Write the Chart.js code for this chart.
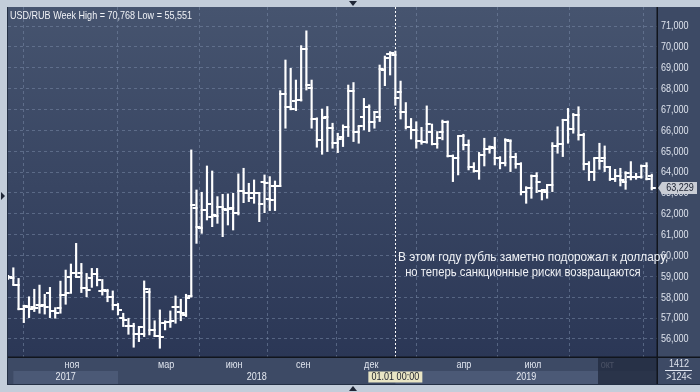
<!DOCTYPE html>
<html>
<head>
<meta charset="utf-8">
<script src="https://cdn.jsdelivr.net/npm/chart.js@4.4.1/dist/chart.umd.min.js"></script>
<style>
  html, body { margin: 0; padding: 0; background: #c3cdda; }
  #wrap { width: 700px; height: 392px; }
</style>
</head>
<body>
<div id="wrap"><canvas id="ohlcChart" width="700" height="392"></canvas></div>
<script>
// Недельные бары USD/RUB, слева направо (124 бара)
const opens = [
  59.00, 58.90, 58.58, 57.43, 57.51, 57.55, 57.61, 57.61, 58.20, 57.34,
  57.46, 58.10, 58.98, 59.17, 59.17, 58.42, 58.90, 59.11, 58.30, 58.30,
  58.02, 57.62, 56.99, 56.62, 56.62, 56.22, 56.22, 58.26, 56.43, 56.14,
  56.78, 56.83, 57.54, 57.31, 57.15, 58.05, 62.26, 61.30, 62.18, 61.86,
  61.91, 62.34, 62.18, 62.29, 62.05, 63.11, 62.98, 62.98, 62.98, 63.51,
  62.71, 63.35, 63.35, 67.74, 67.10, 67.41, 67.45, 69.88, 68.01, 66.53,
  65.54, 66.66, 66.10, 65.41, 65.70, 66.14, 67.90, 65.94, 66.66, 67.10,
  66.42, 66.66, 68.89, 69.64, 69.60, 67.82, 66.89, 66.14, 66.02, 65.50,
  65.42, 65.90, 65.33, 65.94, 66.41, 64.77, 64.66, 65.73, 65.30, 64.26,
  64.05, 64.82, 65.10, 65.14, 64.66, 64.45, 65.49, 64.74, 64.38, 63.06,
  63.25, 63.81, 63.10, 63.06, 63.38, 65.25, 65.33, 66.49, 66.05, 66.73,
  65.78, 64.38, 64.02, 64.66, 64.66, 64.23, 63.65, 63.81, 63.54, 63.75,
  63.75, 63.75, 64.29, 63.81
];
const highs = [
  59.05, 59.41, 58.90, 57.62, 58.02, 58.38, 58.58, 58.14, 58.47, 57.50,
  58.77, 59.30, 59.59, 60.58, 59.62, 59.14, 59.38, 59.38, 58.85, 58.38,
  58.30, 57.70, 57.23, 56.99, 56.75, 56.59, 58.78, 58.42, 56.87, 57.39,
  56.87, 57.34, 58.06, 57.90, 58.14, 65.06, 63.14, 63.03, 64.29, 64.05,
  62.82, 62.93, 62.95, 62.98, 63.91, 64.18, 63.46, 63.62, 63.00, 63.86,
  63.78, 63.57, 67.90, 69.37, 68.97, 68.41, 70.06, 70.768, 68.41, 66.60,
  67.02, 67.14, 66.34, 65.86, 66.26, 68.17, 68.29, 66.21, 67.53, 67.22,
  66.90, 69.13, 69.56, 69.77, 69.80, 68.36, 67.33, 66.57, 66.41, 66.14,
  67.17, 66.30, 65.94, 66.49, 66.45, 64.82, 65.74, 65.81, 65.54, 64.45,
  64.94, 65.62, 65.25, 65.66, 64.74, 65.60, 65.55, 64.90, 64.45, 63.30,
  63.86, 63.97, 63.14, 63.40, 65.41, 66.17, 66.53, 67.05, 66.81, 67.13,
  65.86, 64.50, 64.66, 65.38, 65.25, 64.25, 64.13, 64.18, 64.02, 64.50,
  63.94, 64.34, 64.45, 63.90
];
const lows = [
  58.85, 58.58, 57.39, 56.78, 57.02, 57.31, 57.23, 57.19, 57.02, 56.99,
  57.23, 57.66, 58.18, 58.95, 58.22, 58.02, 58.47, 58.54, 58.10, 57.78,
  57.39, 57.15, 56.59, 56.22, 55.60, 55.87, 56.11, 56.19, 56.11, 55.551,
  56.43, 56.55, 56.75, 56.87, 57.07, 58.00, 60.58, 61.06, 61.70, 61.38,
  61.54, 60.90, 61.46, 61.22, 61.94, 62.53, 62.58, 62.50, 61.62, 62.05,
  62.15, 62.15, 63.30, 66.10, 66.98, 66.94, 67.40, 67.93, 66.10, 65.19,
  64.85, 64.98, 65.14, 64.93, 65.22, 65.70, 65.46, 65.38, 66.02, 65.94,
  66.10, 66.42, 68.14, 68.65, 67.20, 66.54, 66.06, 65.58, 65.14, 65.33,
  65.38, 65.30, 65.14, 65.54, 64.72, 63.54, 63.86, 65.06, 64.10, 63.99,
  63.65, 64.29, 64.90, 64.34, 64.15, 64.29, 64.02, 64.18, 62.90, 62.50,
  62.74, 63.01, 62.66, 62.74, 63.06, 64.90, 64.74, 65.38, 65.86, 65.53,
  64.10, 63.59, 63.59, 64.13, 64.02, 63.59, 63.54, 63.33, 63.17, 63.62,
  63.65, 63.70, 63.62, 63.14
];
const closes = [
  58.95, 58.58, 57.43, 57.58, 57.45, 57.47, 57.58, 57.55, 57.34, 57.26,
  58.10, 58.22, 59.14, 58.98, 58.42, 58.34, 59.11, 58.82, 58.34, 58.02,
  57.62, 57.39, 56.91, 56.62, 56.22, 56.59, 58.38, 56.43, 56.14, 56.11,
  56.83, 56.87, 57.54, 57.23, 57.95, 62.42, 61.35, 62.18, 62.47, 61.94,
  62.34, 62.21, 62.21, 62.05, 63.11, 62.98, 62.74, 62.98, 62.47, 63.49,
  62.66, 63.35, 67.74, 67.10, 67.01, 67.45, 69.88, 68.17, 66.53, 65.54,
  66.58, 66.10, 65.41, 65.57, 66.14, 67.90, 65.94, 66.21, 67.10, 66.42,
  66.86, 68.92, 69.48, 69.69, 67.55, 66.89, 66.14, 66.02, 65.50, 65.42,
  66.29, 65.33, 65.62, 66.41, 64.77, 64.66, 65.73, 65.30, 64.26, 64.05,
  64.82, 65.10, 65.18, 64.66, 64.45, 65.54, 64.74, 64.39, 63.06, 63.25,
  63.81, 63.54, 63.14, 63.38, 65.25, 65.33, 66.49, 66.05, 66.73, 65.78,
  64.38, 64.02, 64.66, 64.54, 64.23, 63.65, 63.81, 63.62, 63.94, 63.75,
  63.75, 64.29, 63.65, 63.229
];

// Подписи оси X (позиции в номерах баров)
const monthLabels = ['ноя', 'мар', 'июн', 'сен', 'дек', 'апр', 'июл', 'окт'];
const monthBars = [12, 30, 43, 56.2, 69.2, 86.9, 100.1, 114.3];
const yearLabels = ['2017', '2018', '2019'];
const yearStartBars = [1, 21, 74];
const cursorBar = 74;

const FONT = "'Liberation Sans', Arial, sans-serif";
const fmt = v => v.toFixed(3).replace('.', ',');
const idx = opens.map((_, i) => i);

// Узкий шрифт: Liberation Sans, сжатый по горизонтали (как Arial Narrow)
function narrowText(ctx, text, x, y, align, size, squeeze) {
    ctx.save();
    ctx.font = (size || 10.5) + 'px ' + FONT;
    ctx.textAlign = align || 'left';
    ctx.translate(x, y);
    ctx.scale(squeeze || 0.86, 1);
    ctx.fillText(text, 0, 0);
    ctx.restore();
}

// Засечки открытия (слева) и закрытия (справа) как картинки для точек
function tickImage(side) {
    const c = document.createElement('canvas');
    c.width = 10;
    c.height = 2;
    const g = c.getContext('2d');
    g.fillStyle = '#ffffff';
    if (side === 'left') g.fillRect(1, 0, 5, 2);
    else g.fillRect(4, 0, 5, 2);
    return c;
}

// Фон, панели осей и годовые плашки
const backdrop = {
    id: 'backdrop',
    beforeDraw(chart) {
        const { ctx, chartArea: a, scales: { x } } = chart;
        const W = chart.width;
        ctx.save();
        ctx.fillStyle = '#c3cdda';
        ctx.fillRect(0, 0, W, chart.height);

        const g = ctx.createLinearGradient(0, a.top, 0, a.bottom);
        g.addColorStop(0, '#46546f');
        g.addColorStop(1, '#2b3756');
        ctx.fillStyle = g;
        ctx.fillRect(a.left, a.top, a.right - a.left, a.bottom - a.top);

        ctx.fillStyle = '#3d4a65';
        ctx.fillRect(a.right, a.top, W - a.right, 384 - a.top);
        ctx.fillRect(a.left, a.bottom, a.right - a.left, 384 - a.bottom);

        // плашки 2017 и 2019
        ctx.fillStyle = '#4b5976';
        const e = yearStartBars.map(v => x.getPixelForValue(v)).concat([a.right]);
        ctx.fillRect(e[0], 371, e[1] - e[0], 13);
        ctx.fillRect(e[2], 371, e[3] - e[2], 13);
        ctx.restore();
    }
};

// Подписи осей, курсор, рамки
const overlay = {
    id: 'overlay',
    afterDraw(chart) {
        const { ctx, chartArea: a, scales: { x, y } } = chart;
        const W = chart.width;
        ctx.save();
        ctx.textBaseline = 'middle';

        // подписи цен справа
        ctx.fillStyle = '#dfe4ee';
        y.ticks.forEach(t => narrowText(ctx, fmt(t.value), a.right + 4, y.getPixelForValue(t.value) + 0.5, 'left'));

        // месяцы
        x.ticks.forEach((t, i) => narrowText(ctx, monthLabels[i], x.getPixelForValue(t.value) + 1, 365, 'center'));

        // затемнённая область справа внизу
        ctx.fillStyle = 'rgba(34, 43, 64, 0.8)';
        ctx.fillRect(598, a.bottom, a.right - 598, 384 - a.bottom);

        // годы
        const e = yearStartBars.map(v => x.getPixelForValue(v)).concat([a.right]);
        ctx.fillStyle = '#e4e8f0';
        yearLabels.forEach((t, i) => narrowText(ctx, t, (e[i] + e[i + 1]) / 2, 377, 'center'));

        // линия курсора и её метка
        const cx = x.getPixelForValue(cursorBar);
        ctx.strokeStyle = '#ffffff';
        ctx.lineWidth = 1;
        ctx.setLineDash([2, 2]);
        ctx.beginPath();
        ctx.moveTo(Math.round(cx) + 0.5, a.top);
        ctx.lineTo(Math.round(cx) + 0.5, a.bottom);
        ctx.stroke();
        ctx.setLineDash([]);
        ctx.fillStyle = '#e9e5c4';
        ctx.fillRect(cx - 27, 371.5, 54, 11);
        ctx.fillStyle = '#1b1f2a';
        narrowText(ctx, '01.01 00:00', cx, 377.5, 'center');

        // рамки
        ctx.fillStyle = '#11151d';
        ctx.fillRect(a.right - 0.5, a.top, 1.5, 384 - a.top);
        ctx.fillRect(a.left, a.bottom - 0.5, W - a.left, 1.5);
        ctx.fillStyle = '#243045';
        ctx.fillRect(a.left - 1, a.top, 1, 384 - a.top);
        ctx.fillRect(a.left - 1, 384, W - a.left + 1, 1);

        // счётчик баров
        ctx.fillStyle = '#dfe4ee';
        narrowText(ctx, '1412', 679, 364.5, 'center');
        narrowText(ctx, '>' + opens.length + '<', 679, 377.5, 'center');
        ctx.fillRect(665, 370, 27, 1);

        // метка последней цены
        const last = closes[closes.length - 1];
        const py = y.getPixelForValue(last);
        ctx.fillStyle = '#c9cdd5';
        ctx.beginPath();
        ctx.moveTo(a.right + 1, py);
        ctx.lineTo(662, py - 6);
        ctx.lineTo(697, py - 6);
        ctx.lineTo(697, py + 6);
        ctx.lineTo(662, py + 6);
        ctx.closePath();
        ctx.fill();
        ctx.fillStyle = '#1a2030';
        narrowText(ctx, fmt(last), 680, py + 0.5, 'center');

        // заголовок
        ctx.textBaseline = 'alphabetic';
        ctx.fillStyle = '#f0f2f6';
        narrowText(ctx, 'USD/RUB Week High = ' + fmt(Math.max(...highs)) + ' Low = ' + fmt(Math.min(...lows)), 10, 18.5, 'left');

        // комментарий
        narrowText(ctx, 'В этом году рубль заметно подорожал к доллару,', 398, 261, 'left', 12, 0.985);
        narrowText(ctx, ' но теперь санкционные риски возвращаются', 402, 276, 'left', 12, 0.94);

        // треугольники
        ctx.fillStyle = '#1f2636';
        ctx.beginPath();
        ctx.moveTo(349, 1); ctx.lineTo(357, 1); ctx.lineTo(353, 6); ctx.closePath(); ctx.fill();
        ctx.beginPath();
        ctx.moveTo(349, 391); ctx.lineTo(357, 391); ctx.lineTo(353, 386); ctx.closePath(); ctx.fill();
        ctx.beginPath();
        ctx.moveTo(1, 192); ctx.lineTo(1, 200); ctx.lineTo(5, 196); ctx.closePath(); ctx.fill();
        ctx.restore();
    }
};

const ctx = document.getElementById('ohlcChart').getContext('2d');
const gridColor = 'rgba(120, 136, 166, 0.55)';

window.ohlcChart = new Chart(ctx, {
    type: 'bar',
    data: {
        datasets: [
            {
                label: 'High-Low',
                data: idx.map(i => ({ x: i, y: [lows[i], highs[i]] })),
                backgroundColor: '#ffffff',
                borderWidth: 0,
                barThickness: 1.5,
                grouped: false
            },
            {
                type: 'scatter',
                label: 'Open',
                data: idx.map(i => ({ x: i, y: opens[i] })),
                pointStyle: tickImage('left'),
                pointRadius: 3
            },
            {
                type: 'scatter',
                label: 'Close',
                data: idx.map(i => ({ x: i, y: closes[i] })),
                pointStyle: tickImage('right'),
                pointRadius: 3
            }
        ]
    },
    options: {
        responsive: false,
        animation: false,
        layout: { padding: { left: 8, top: 7, right: 0, bottom: 0 } },
        plugins: {
            legend: { display: false },
            tooltip: { enabled: false }
        },
        scales: {
            x: {
                type: 'linear',
                min: -0.02,
                max: 124.0,
                offset: false,
                afterBuildTicks: s => { s.ticks = monthBars.map(v => ({ value: v })); },
                afterFit: s => { s.height = 35; s.paddingLeft = 0; s.paddingRight = 0; },
                ticks: { display: false },
                grid: { color: gridColor, lineWidth: 1, drawTicks: false },
                border: { display: false, dash: [3, 3] }
            },
            y: {
                position: 'right',
                min: 55.132,
                max: 71.911,
                afterFit: s => { s.width = 43; s.paddingTop = 0; s.paddingBottom = 0; },
                ticks: { display: false, stepSize: 1, includeBounds: false },
                grid: { color: gridColor, lineWidth: 1, drawTicks: false },
                border: { display: false, dash: [3, 3] }
            }
        }
    },
    plugins: [backdrop, overlay]
});
</script>
</body>
</html>
